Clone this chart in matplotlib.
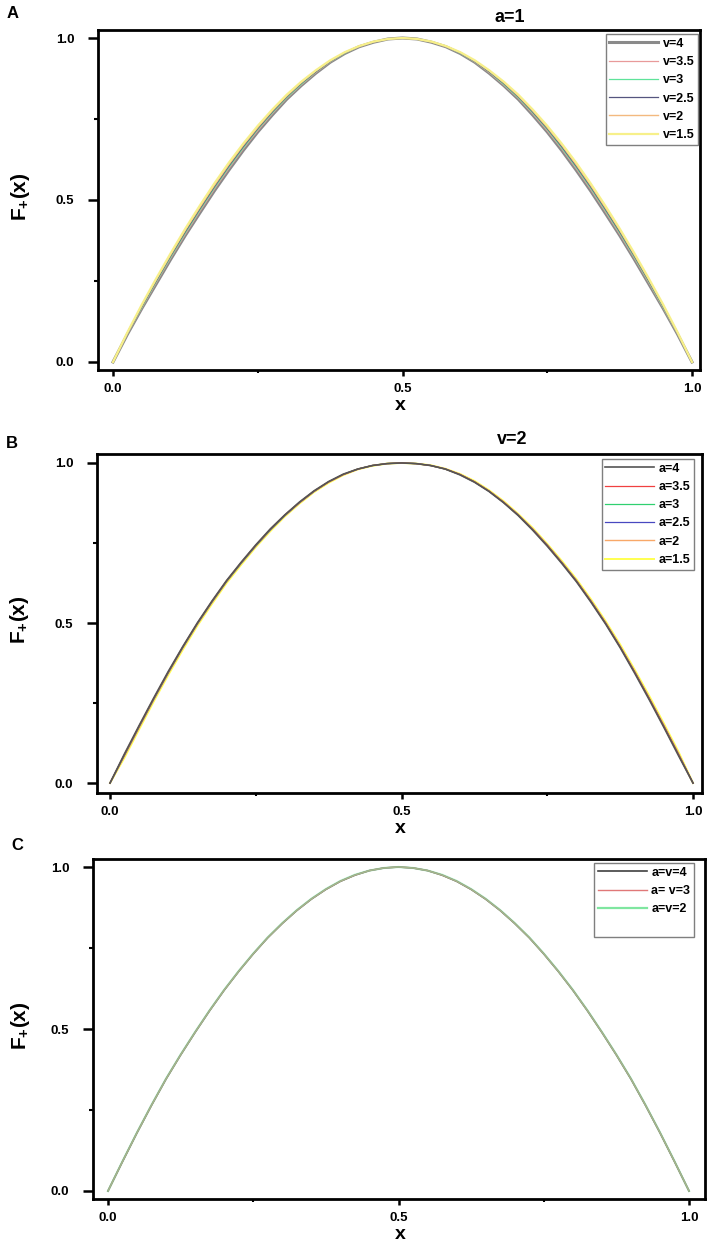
import matplotlib
matplotlib.use('Agg')
import matplotlib.pyplot as plt
from matplotlib.ticker import FixedLocator
from matplotlib.lines import Line2D

plt.rcParams['font.family'] = ['Liberation Sans', 'DejaVu Sans']
plt.rcParams['font.weight'] = 'bold'
plt.rcParams['mathtext.fontset'] = 'custom'
plt.rcParams['mathtext.rm'] = 'Liberation Sans:bold'
plt.rcParams['mathtext.bf'] = 'Liberation Sans:bold'
plt.rcParams['mathtext.it'] = 'Liberation Sans:bold'

# ---------------- data ----------------
x_vals = [0.000, 0.025, 0.050, 0.075, 0.100, 0.125, 0.150, 0.175, 0.200, 0.225,
          0.250, 0.275, 0.300, 0.325, 0.350, 0.375, 0.400, 0.425, 0.450, 0.475,
          0.500, 0.525, 0.550, 0.575, 0.600, 0.625, 0.650, 0.675, 0.700, 0.725,
          0.750, 0.775, 0.800, 0.825, 0.850, 0.875, 0.900, 0.925, 0.950, 0.975,
          1.000]

# Panel A : a = 1, varying v
labels_A = ['v=4', 'v=3.5', 'v=3', 'v=2.5', 'v=2', 'v=1.5']
A_v4 = [0, .086, .166, .242, .318, .391, .460, .528, .592, .653,
        .710, .762, .811, .853, .891, .925, .952, .973, .987, .997,
        1.0, .997, .987, .973, .952, .925, .891, .853, .811, .762,
        .710, .653, .592, .528, .460, .391, .318, .242, .166, .086, 0]
A_v35 = [0, .087, .168, .246, .322, .395, .465, .533, .597, .658,
         .714, .766, .814, .855, .893, .926, .953, .973, .988, .997,
         1.0, .997, .988, .973, .953, .926, .893, .855, .814, .766,
         .714, .658, .597, .533, .465, .395, .322, .246, .168, .087, 0]
A_v3 = [0, .088, .170, .249, .325, .399, .469, .537, .601, .661,
        .718, .769, .816, .857, .895, .927, .953, .974, .988, .997,
        1.0, .997, .988, .974, .953, .927, .895, .857, .816, .769,
        .718, .661, .601, .537, .469, .399, .325, .249, .170, .088, 0]
A_v25 = [0, .089, .173, .252, .329, .403, .473, .541, .605, .665,
         .721, .772, .819, .860, .896, .928, .954, .974, .988, .997,
         1.0, .997, .988, .974, .954, .928, .896, .860, .819, .772,
         .721, .665, .605, .541, .473, .403, .329, .252, .173, .089, 0]
A_v2 = [0, .090, .175, .255, .332, .407, .477, .545, .609, .669,
        .724, .775, .821, .862, .898, .929, .955, .975, .988, .997,
        1.0, .997, .988, .975, .955, .929, .898, .862, .821, .775,
        .724, .669, .609, .545, .477, .407, .332, .255, .175, .090, 0]
A_v15 = [0, .092, .178, .259, .337, .412, .483, .551, .615, .674,
         .729, .779, .825, .865, .900, .931, .956, .975, .989, .997,
         1.0, .997, .989, .975, .956, .931, .900, .865, .825, .779,
         .729, .674, .615, .551, .483, .412, .337, .259, .178, .092, 0]

# Panel B : v = 2, varying a
labels_B = ['a=4', 'a=3.5', 'a=3', 'a=2.5', 'a=2', 'a=1.5']
B_a4 = [0, .092, .180, .266, .349, .427, .501, .569, .633, .690,
        .744, .794, .838, .878, .913, .942, .965, .981, .992, .998,
        1.0, .998, .992, .981, .963, .940, .911, .876, .836, .790,
        .740, .686, .629, .565, .497, .423, .343, .260, .174, .086, 0]
B_a35 = [0, .090, .178, .264, .347, .426, .500, .568, .632, .689,
         .743, .793, .838, .877, .912, .941, .964, .981, .992, .998,
         1.0, .998, .992, .981, .964, .941, .912, .877, .837, .792,
         .742, .688, .631, .567, .499, .425, .346, .263, .177, .089, 0]
B_a3 = [0, .089, .177, .263, .346, .425, .499, .567, .631, .688,
        .742, .792, .837, .877, .912, .941, .964, .981, .992, .998,
        1.0, .998, .992, .981, .964, .941, .912, .877, .837, .792,
        .742, .688, .631, .567, .499, .425, .346, .263, .177, .089, 0]
B_a25 = [0, .088, .176, .262, .345, .424, .498, .566, .630, .687,
         .741, .791, .836, .876, .911, .941, .964, .981, .992, .998,
         1.0, .998, .992, .981, .964, .941, .912, .877, .838, .793,
         .743, .689, .632, .568, .500, .426, .347, .264, .178, .090, 0]
B_a2 = [0, .085, .173, .260, .343, .422, .496, .564, .629, .686,
        .740, .790, .835, .875, .911, .940, .963, .980, .992, .998,
        1.0, .998, .992, .982, .965, .942, .913, .879, .839, .794,
        .744, .690, .633, .570, .502, .428, .349, .266, .181, .093, 0]
B_a15 = [0, .080, .168, .255, .338, .417, .492, .560, .625, .682,
         .737, .787, .833, .873, .909, .938, .962, .980, .991, .998,
         1.0, .998, .993, .982, .966, .944, .915, .881, .841, .797,
         .747, .694, .637, .574, .506, .433, .354, .272, .186, .098, 0]

# Panel C : a = v
labels_C = ['a=v=4', 'a= v=3', 'a=v=2']
C_4 = [0, .091, .180, .265, .346, .420, .490, .557, .620, .678,
       .732, .782, .826, .866, .901, .931, .956, .975, .989, .997,
       1.0, .997, .989, .975, .956, .931, .901, .866, .826, .782,
       .732, .678, .620, .557, .490, .420, .346, .265, .180, .091, 0]
C_3 = [0, .091, .180, .265, .346, .420, .490, .557, .620, .678,
       .732, .782, .826, .866, .901, .931, .956, .975, .989, .997,
       1.0, .997, .989, .975, .956, .931, .901, .866, .826, .782,
       .732, .678, .620, .557, .490, .420, .346, .265, .180, .091, 0]
C_2 = [0, .092, .181, .266, .347, .421, .491, .558, .621, .679,
       .733, .783, .827, .867, .902, .932, .957, .976, .989, .997,
       1.0, .997, .989, .976, .957, .932, .902, .867, .827, .783,
       .733, .679, .621, .558, .491, .421, .347, .266, .181, .092, 0]

x_ticks = [0.0, 0.5, 1.0]
x_ticklabels = ['0.0', '0.5', '1.0']
y_ticks = [0.0, 0.5, 1.0]
y_ticklabels = ['0.0', '0.5', '1.0']
minor_ticks = [0.25, 0.75]

# ---------------- figure ----------------
W, H = 713, 1255
fig = plt.figure(figsize=(W / 100, H / 100), dpi=100)


def px_axes(left, top, right, bottom):
    return fig.add_axes([left / W, 1 - bottom / H, (right - left) / W, (bottom - top) / H])


def style_axes(ax, xlim, ylim, ylab_x):
    ax.set_xlim(*xlim)
    ax.set_ylim(*ylim)
    for s in ax.spines.values():
        s.set_linewidth(2.0)
        s.set_color('black')
    ax.xaxis.set_major_locator(FixedLocator(x_ticks))
    ax.yaxis.set_major_locator(FixedLocator(y_ticks))
    ax.xaxis.set_minor_locator(FixedLocator(minor_ticks))
    ax.yaxis.set_minor_locator(FixedLocator(minor_ticks))
    ax.set_xticklabels(x_ticklabels)
    ax.set_yticklabels(y_ticklabels)
    ax.tick_params(axis='y', which='major', direction='out', length=7, width=1.8,
                   pad=10, labelsize=9.5)
    ax.tick_params(axis='y', which='minor', direction='out', length=3, width=1.5)
    ax.tick_params(axis='x', which='major', direction='out', length=4.5, width=1.8,
                   pad=5, labelsize=9.5)
    ax.tick_params(axis='x', which='minor', direction='out', length=2.5, width=1.5)
    for lab in ax.get_xticklabels() + ax.get_yticklabels():
        lab.set_fontweight('bold')
    ax.set_xlabel('x', fontsize=14, fontweight='bold', va='center')
    ax.set_ylabel(r'$\mathbf{F_{+}(x)}$', fontsize=15, va='center')
    ax.xaxis.set_label_coords(0.502, -0.105)
    ax.yaxis.set_label_coords(ylab_x, 0.51)


def add_legend(ax, anchor, ncount_blank=0):
    h, l = ax.get_legend_handles_labels()
    for _ in range(ncount_blank):
        h.append(Line2D([], [], color='none'))
        l.append(' ')
    leg = ax.legend(h, l, loc='upper right', bbox_to_anchor=anchor, borderaxespad=0,
                    fancybox=False, framealpha=1, edgecolor='#7f7f7f',
                    prop={'size': 9, 'weight': 'bold'}, handlelength=3.9,
                    handletextpad=0.35, labelspacing=0.5, borderpad=0.3)
    leg.get_frame().set_linewidth(1.0)


# ---- Panel A ----
axA = px_axes(98, 30, 700, 370)
colors_A = ['#8a8a8a', '#e89a9a', '#5fe39a', '#55557f', '#f3b97f', '#f7f08a']
widths_A = [2.2, 0.9, 0.9, 0.9, 1.0, 1.6]
for ys, lab, c, lw in zip([A_v4, A_v35, A_v3, A_v25, A_v2, A_v15], labels_A, colors_A, widths_A):
    axA.plot(x_vals, ys, color=c, lw=lw, label=lab)
style_axes(axA, (-0.0259, 1.0138), (-0.0247, 1.0247), -0.128)
add_legend(axA, ((698 - 98) / 602, (370 - 34) / 340))

# ---- Panel B ----
axB = px_axes(97, 454, 702, 793)
colors_B = ['#555555', '#f04040', '#30d070', '#4848c0', '#f8a868', '#ffff50']
widths_B = [1.2, 0.9, 0.9, 0.9, 1.0, 1.4]
zorders_B = [2.6, 2.5, 2.4, 2.3, 2.2, 2.1]
for ys, lab, c, lw, z in zip([B_a4, B_a35, B_a3, B_a25, B_a2, B_a15], labels_B, colors_B,
                             widths_B, zorders_B):
    axB.plot(x_vals, ys, color=c, lw=lw, label=lab, zorder=z)
style_axes(axB, (-0.0223, 1.0154), (-0.031, 1.028), -0.128)
add_legend(axB, ((694 - 97) / 605, (793 - 459) / 339))

# ---- Panel C ----
axC = px_axes(93, 859, 705, 1199)
colors_C = ['#404040', '#e07878', '#7fe6a0']
widths_C = [1.2, 1.0, 1.6]
alphas_C = [1.0, 1.0, 0.55]
for ys, lab, c, lw, al in zip([C_4, C_3, C_2], labels_C, colors_C, widths_C, alphas_C):
    axC.plot(x_vals, ys, color=c, lw=lw, label=lab, alpha=al)
style_axes(axC, (-0.0258, 1.0275), (-0.0247, 1.0247), -0.118)
add_legend(axC, ((694 - 93) / 612, (1199 - 863) / 340), ncount_blank=1)
for lh in axC.get_legend().get_lines():
    lh.set_alpha(1.0)

# ---- titles & panel letters ----
fig.text(510 / W, 1 - 17 / H, 'a=1', ha='center', va='center', fontsize=13, fontweight='bold')
fig.text(512 / W, 1 - 440 / H, 'v=2', ha='center', va='center', fontsize=13, fontweight='bold')
fig.text(13 / W, 1 - 14 / H, 'A', ha='center', va='center', fontsize=12, fontweight='bold')
fig.text(12 / W, 1 - 443 / H, 'B', ha='center', va='center', fontsize=12, fontweight='bold')
fig.text(17 / W, 1 - 845 / H, 'C', ha='center', va='center', fontsize=12, fontweight='bold')

fig.savefig('out.png', dpi=100, facecolor='white')
